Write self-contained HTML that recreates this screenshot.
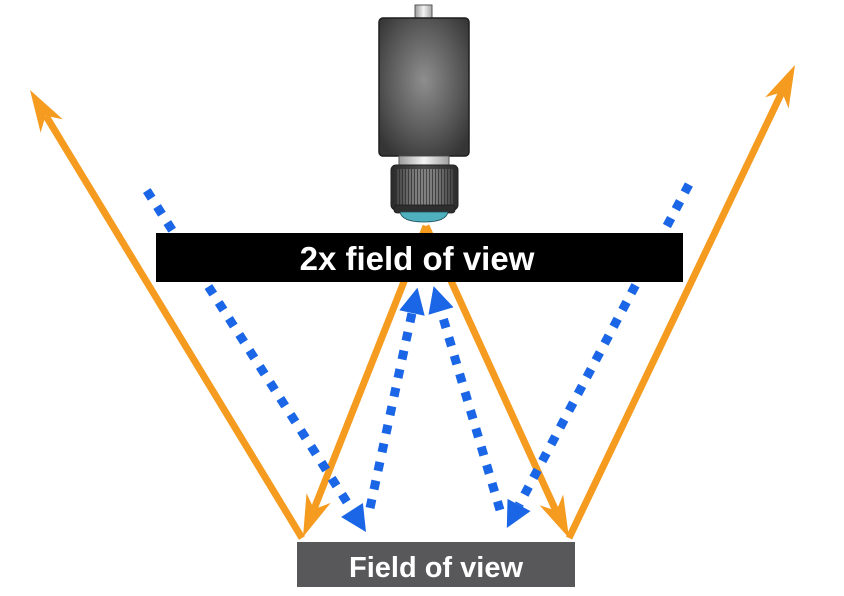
<!DOCTYPE html>
<html>
<head>
<meta charset="utf-8">
<style>
  html,body{margin:0;padding:0;background:#fff;}
  body{width:844px;height:596px;overflow:hidden;}
  svg{display:block;}
</style>
</head>
<body>
<svg width="844" height="596" viewBox="0 0 844 596" xmlns="http://www.w3.org/2000/svg">
  <defs>
    <radialGradient id="body" cx="0.5" cy="0.45" r="0.65">
      <stop offset="0" stop-color="#8e8e8e"/>
      <stop offset="0.6" stop-color="#5a5a5a"/>
      <stop offset="1" stop-color="#353535"/>
    </radialGradient>
    <linearGradient id="cap" x1="0" y1="0" x2="1" y2="0">
      <stop offset="0" stop-color="#9a9a9a"/>
      <stop offset="0.5" stop-color="#f2f2f2"/>
      <stop offset="1" stop-color="#a5a5a5"/>
    </linearGradient>
    <linearGradient id="collar" x1="0" y1="0" x2="1" y2="0">
      <stop offset="0" stop-color="#9c9c9c"/>
      <stop offset="0.5" stop-color="#f4f4f4"/>
      <stop offset="1" stop-color="#a0a0a0"/>
    </linearGradient>
    <linearGradient id="ring" x1="0" y1="0" x2="1" y2="0">
      <stop offset="0" stop-color="#2c2c2c"/>
      <stop offset="0.5" stop-color="#4a4a4a"/>
      <stop offset="1" stop-color="#2c2c2c"/>
    </linearGradient>
  </defs>

  <rect x="0" y="0" width="844" height="596" fill="#ffffff"/>

  <!-- Orange lines -->
  <g stroke="#f59b1f" stroke-width="7" fill="none" stroke-linecap="butt">
    <line x1="302" y1="538" x2="46" y2="116"/>
    <line x1="569" y1="538" x2="782" y2="92"/>
    <line x1="426" y1="226" x2="314" y2="509"/>
    <line x1="426" y1="226" x2="556" y2="511"/>
  </g>
  <g fill="#f59b1f">
    <polygon points="30,90 62.8,119.3 45.5,115.7 40.6,132.7"/>
    <polygon points="795,65 788.6,108.5 782.1,92.1 765.2,97.3"/>
    <polygon points="303,537 330.7,502.9 314.1,509.2 306.5,493.3"/>
    <polygon points="569,538 563.2,494.5 556.4,510.8 539.6,505.3"/>
  </g>

  <!-- Blue dotted lines -->
  <g stroke="#1a66e6" stroke-width="9" fill="none" stroke-dasharray="9 10">
    <line x1="146.8" y1="190.6" x2="352" y2="510"/>
    <line x1="370" y1="508" x2="412" y2="313"/>
    <line x1="688.9" y1="184.5" x2="519" y2="505"/>
    <line x1="500" y1="510" x2="441" y2="311"/>
  </g>
  <g fill="#1a66e6">
    <polygon points="366,532 362.9,503 341.1,517"/>
    <polygon points="417.5,287.6 424.7,315.7 399.3,310.3"/>
    <polygon points="506.8,528 530.5,511.1 507.5,498.9"/>
    <polygon points="433.6,286.1 453.5,307.3 428.5,314.7"/>
  </g>

  <!-- Black bar -->
  <rect x="156" y="233" width="527" height="49" fill="#000"/>
  <text x="417" y="270" text-anchor="middle" fill="#fff" font-family="'Liberation Sans', Arial, sans-serif" font-weight="bold" font-size="33">2x field of view</text>

  <!-- Camera -->
  <rect x="415" y="5" width="17" height="14" fill="url(#cap)" stroke="#555" stroke-width="1"/>
  <rect x="379" y="18" width="90" height="138" rx="4" fill="url(#body)" stroke="#1e1e1e" stroke-width="1.5"/>
  <rect x="399" y="156" width="50" height="9" fill="url(#collar)" stroke="#555" stroke-width="1"/>
  <rect x="391" y="165" width="67" height="45" rx="5" fill="url(#ring)" stroke="#222" stroke-width="1"/>
  <g stroke="#b8b8b8" stroke-width="1">
    <line x1="398" y1="169" x2="398" y2="205" stroke-opacity="0.35"/>
    <line x1="401" y1="169" x2="401" y2="205" stroke-opacity="0.45"/>
    <line x1="404" y1="169" x2="404" y2="205" stroke-opacity="0.55"/>
    <line x1="407" y1="169" x2="407" y2="205" stroke-opacity="0.7"/>
    <line x1="410" y1="169" x2="410" y2="205" stroke-opacity="0.8"/>
    <line x1="413" y1="169" x2="413" y2="205" stroke-opacity="0.9"/>
    <line x1="416" y1="169" x2="416" y2="205"/>
    <line x1="419" y1="169" x2="419" y2="205"/>
    <line x1="422" y1="169" x2="422" y2="205"/>
    <line x1="425" y1="169" x2="425" y2="205"/>
    <line x1="428" y1="169" x2="428" y2="205"/>
    <line x1="431" y1="169" x2="431" y2="205"/>
    <line x1="434" y1="169" x2="434" y2="205"/>
    <line x1="437" y1="169" x2="437" y2="205" stroke-opacity="0.9"/>
    <line x1="440" y1="169" x2="440" y2="205" stroke-opacity="0.8"/>
    <line x1="443" y1="169" x2="443" y2="205" stroke-opacity="0.7"/>
    <line x1="446" y1="169" x2="446" y2="205" stroke-opacity="0.55"/>
    <line x1="449" y1="169" x2="449" y2="205" stroke-opacity="0.45"/>
    <line x1="452" y1="169" x2="452" y2="205" stroke-opacity="0.35"/>
  </g>
  <rect x="394" y="205" width="61" height="8" rx="3" fill="#2e2e2e" stroke="#1a1a1a" stroke-width="0.8"/>
  <path d="M400,212 L448,212 Q446,222 424,222 Q402,222 400,212 Z" fill="#4fb1be" stroke="#1f4f58" stroke-width="0.8"/>

  <!-- Gray bar -->
  <rect x="297" y="542" width="278" height="45" fill="#58585a"/>
  <text x="436" y="577" text-anchor="middle" fill="#fff" font-family="'Liberation Sans', Arial, sans-serif" font-weight="bold" font-size="29">Field of view</text>
</svg>
</body>
</html>
